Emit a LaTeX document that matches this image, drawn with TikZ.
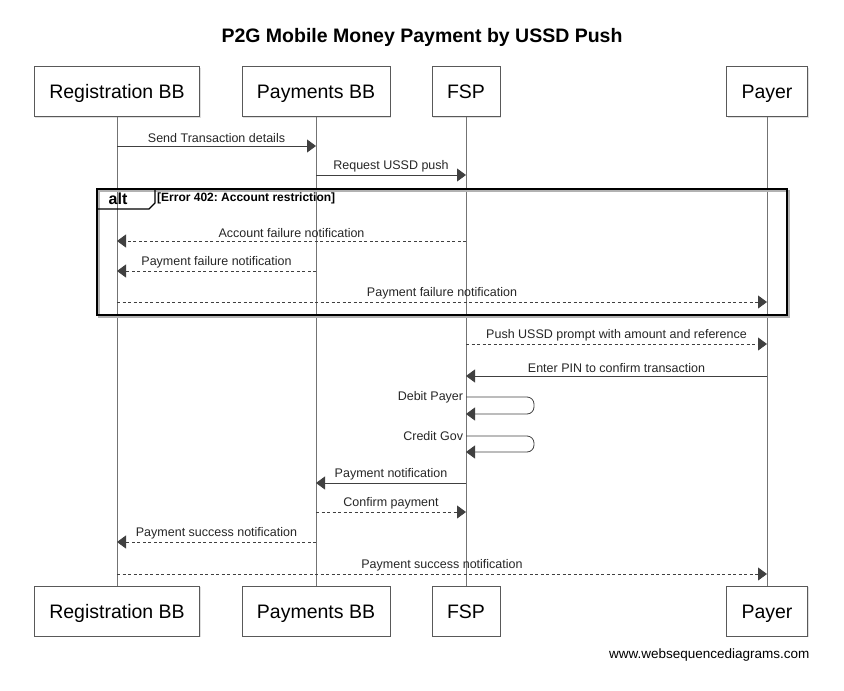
\documentclass[tikz,border=0pt]{standalone}
\usepackage{fontspec}
\setmainfont{Liberation Sans}
\usetikzlibrary{arrows.meta,shadows}
\tikzset{
    actor/.style={draw=black!65, line width=0.8pt, fill=white, inner xsep=15pt,
        text height=14pt, text depth=0pt, minimum height=50pt,
        font=\fontsize{19.5}{23}\selectfont,
        drop shadow={shadow xshift=1.2pt, shadow yshift=-1.2pt, fill=black!25}},
    life/.style={draw=black!55, line width=0.9pt},
    msg/.style={draw=black!75, line width=0.8pt, -{Triangle[length=9pt,width=13pt]}},
    reply/.style={msg, dash pattern=on 3pt off 2.5pt},
    lbl/.style={font=\fontsize{12.5}{14}\selectfont, text=black!85, inner sep=2.5pt}
}
\frenchspacing
\begin{document}
\begin{tikzpicture}[x=1pt, y=-1pt]
    \useasboundingbox (0,0) rectangle (844,691);
    \node[font=\bfseries\fontsize{19.5}{23}\selectfont] (title) at (422,37) {P2G Mobile Money Payment by USSD Push};
    % participants, top and bottom, with lifelines
    \foreach \p/\lab/\x in {reg/Registration BB/117, pay/Payments BB/316, fsp/FSP/466, payer/Payer/767}{
        \node[actor] (top-\p) at (\x,91.5) {\lab};
        \node[actor] (bot-\p) at (\x,611) {\lab};
        \draw[life] (top-\p.south) -- (bot-\p.north);}
    % message rows
    \coordinate (m1) at (0,146);
    \coordinate (m2) at (0,175);
    \coordinate (m3) at (0,241);
    \coordinate (m4) at (0,271);
    \coordinate (m5) at (0,302);
    \coordinate (m6) at (0,344);
    \coordinate (m7) at (0,376);
    \coordinate (d1) at (0,397);
    \coordinate (d2) at (0,414);
    \coordinate (c1) at (0,436);
    \coordinate (c2) at (0,452);
    \coordinate (m8) at (0,483);
    \coordinate (m9) at (0,512);
    \coordinate (m10) at (0,542);
    \coordinate (m11) at (0,574);
    % alt frame
    \draw[black!30, line width=1.5pt] (99,191) rectangle (789,317);
    \draw[line width=1.5pt] (97,189) rectangle (787,315);
    \draw[line width=1.2pt] (97,189) -- (155,189) -- (155,203) -- (149,209) -- (97,209);
    \node[font=\bfseries\fontsize{16}{18}\selectfont, inner sep=0pt] (alt) at (118,199) {alt};
    \node[font=\bfseries\fontsize{12}{14}\selectfont, anchor=west, inner sep=0pt] (guard) at (157,198) {[Error 402: Account restriction]};
    % messages
    \draw[msg] (top-reg |- m1) -- node[lbl, above] {Send Transaction details} (top-pay |- m1);
    \draw[msg] (top-pay |- m2) -- node[lbl, above] {Request USSD push} (top-fsp |- m2);
    \draw[reply] (top-fsp |- m3) -- node[lbl, above] {Account failure notification} (top-reg |- m3);
    \draw[reply] (top-pay |- m4) -- node[lbl, above] {Payment failure notification} (top-reg |- m4);
    \draw[reply] (top-reg |- m5) -- node[lbl, above] {Payment failure notification} (top-payer |- m5);
    \draw[reply] (top-fsp |- m6) -- node[lbl, above] {Push USSD prompt with amount and reference} (top-payer |- m6);
    \draw[msg] (top-payer |- m7) -- node[lbl, above] {Enter PIN to confirm transaction} (top-fsp |- m7);
    \draw[msg, rounded corners=7pt] (top-fsp |- d1) node[lbl, left] {Debit Payer} -- ++(68,0) |- (top-fsp |- d2);
    \draw[msg, rounded corners=7pt] (top-fsp |- c1) node[lbl, left] {Credit Gov} -- ++(68,0) |- (top-fsp |- c2);
    \draw[msg] (top-fsp |- m8) -- node[lbl, above] {Payment notification} (top-pay |- m8);
    \draw[reply] (top-pay |- m9) -- node[lbl, above] {Confirm payment} (top-fsp |- m9);
    \draw[reply] (top-pay |- m10) -- node[lbl, above] {Payment success notification} (top-reg |- m10);
    \draw[reply] (top-reg |- m11) -- node[lbl, above] {Payment success notification} (top-payer |- m11);
    \node[anchor=east, font=\fontsize{13.5}{16}\selectfont] (site) at (813,655) {www.websequencediagrams.com};
\end{tikzpicture}
\end{document}
